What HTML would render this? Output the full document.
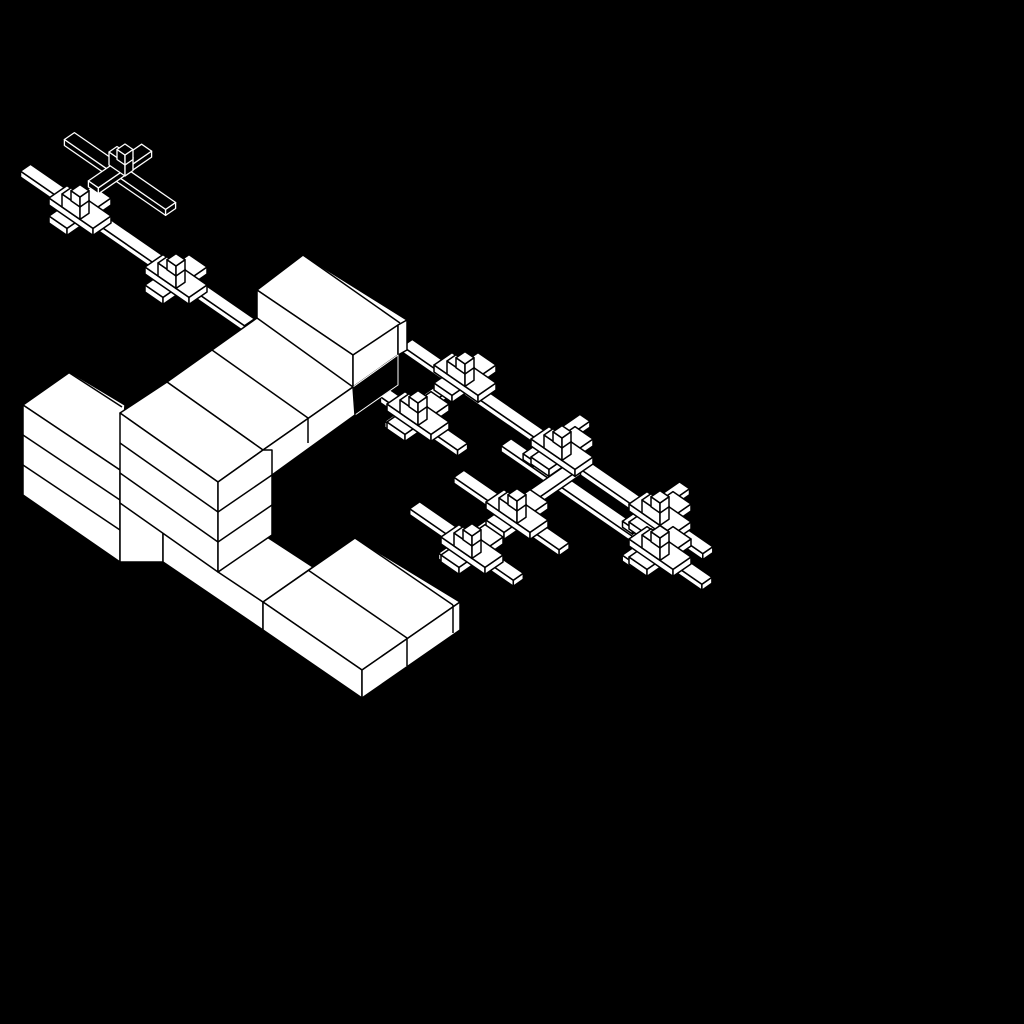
<!DOCTYPE html>
<html><head><meta charset="utf-8"><style>html,body{margin:0;padding:0;background:#000}svg{display:block}</style></head>
<body>
<svg id="s" width="1024" height="1024" viewBox="0 0 1024 1024" xmlns="http://www.w3.org/2000/svg">
<rect width="1024" height="1024" fill="#000"/>
<g id="parts" stroke="#000" stroke-width="1.5" fill="#fff" stroke-linejoin="round"></g>
<g id="bld" stroke="#000" stroke-width="1.5" fill="#fff" stroke-linejoin="round">
<polygon points="257,290 303,255 407,320 353,355"/>
<polygon points="257,290 353,355 353,390 257,330"/>
<polygon points="353,355 398,325 398,355 353,387"/>
<polygon points="398,325 407,320 407,350 398,355"/>
<polygon points="353,387 398,355 398,385 355,415" fill="#000" stroke="#fff" stroke-width="1"/>
<line x1="303" y1="255" x2="400" y2="323"/>
<polygon points="167,382 257,318 353,387 263,450"/>
<line x1="212" y1="350" x2="308" y2="418"/>
<polygon points="263,450 353,387 355,415 272,475 263,475"/>
<line x1="308" y1="418" x2="308" y2="443"/>
<polygon points="23,405 70,372 125,405 120,470"/>
<line x1="68" y1="372" x2="122" y2="407"/>
<polygon points="23,405 120,470 120,562 23,495"/>
<line x1="23" y1="435" x2="120" y2="500"/>
<line x1="23" y1="465" x2="120" y2="530"/>
<polygon points="120,500 163,530 163,562 120,562"/>
<polygon points="163,533 263,602 263,630 163,562"/>
<polygon points="218,572 267,537 313,567 263,602"/>
<polygon points="120,413 167,382 263,450 218,482"/>
<polygon points="120,413 218,482 218,572 120,503"/>
<line x1="120" y1="443" x2="218" y2="512"/>
<line x1="120" y1="473" x2="218" y2="542"/>
<polygon points="218,482 263,450 272,450 272,535 218,572"/>
<line x1="218" y1="512" x2="272" y2="475"/>
<line x1="218" y1="542" x2="272" y2="505"/>
<polygon points="263,602 355,538 460,602 362,670"/>
<polygon points="263,602 362,670 362,698 263,630"/>
<polygon points="362,670 460,602 460,630 362,698"/>
<line x1="308" y1="570" x2="407" y2="638"/>
<line x1="407" y1="638" x2="407" y2="666"/>
<line x1="355" y1="538" x2="453" y2="605"/>
<line x1="453" y1="605" x2="453" y2="633"/>
</g>
</svg>
<script>
var K=0.69,g=document.getElementById('parts'),NS='http://www.w3.org/2000/svg';
function P(u,v,w){return [(u+v),(u-v)*K-w];}
function poly(pts,ox,oy,extra){var e=document.createElementNS(NS,'polygon');
e.setAttribute('points',pts.map(function(p){var q=P(p[0],p[1],p[2]);return (q[0]+ox).toFixed(1)+','+(q[1]+oy).toFixed(1);}).join(' '));
if(extra)for(var k in extra)e.setAttribute(k,extra[k]);g.appendChild(e);}
function box(ox,oy,u0,u1,v0,v1,w0,w1,ex){
poly([[u0,v0,w0],[u1,v0,w0],[u1,v0,w1],[u0,v0,w1]],ox,oy,ex);
poly([[u1,v0,w0],[u1,v1,w0],[u1,v1,w1],[u1,v0,w1]],ox,oy,ex);
poly([[u0,v0,w1],[u1,v0,w1],[u1,v1,w1],[u0,v1,w1]],ox,oy,ex);}
function uv(x,y){return [(x+y/K)/2,(x-y/K)/2];}
function beam(x1,y1,x2,y2,h,hw,ex){h=h||6;hw=hw||5;
var a=uv(x1,y1+h),b=uv(x2,y2+h);
var u0=Math.min(a[0],b[0]),u1=Math.max(a[0],b[0]),v0=Math.min(a[1],b[1]),v1=Math.max(a[1],b[1]);
if(u1-u0>v1-v0){var vc=(v0+v1)/2;v0=vc-hw;v1=vc+hw;}else{var uc=(u0+u1)/2;u0=uc-hw;u1=uc+hw;}
box(0,0,u0,u1,v0,v1,0,h,ex);}
function cross(x,y,ex){var ox=x,oy=y+8;
box(ox,oy,-9,9,-22,22,0,7,ex);
box(ox,oy,-22,22,-9,9,0,7,ex);
box(ox,oy,-9,9,-9,0,7,20,ex);
box(ox,oy,-9,0,0,9,7,17,ex);}
beam(25,168,250,322);
cross(80,206);cross(176,275);
var ol={fill:'#000',stroke:'#fff','stroke-width':'1.3'};
beam(68,137,172,205,6,5,ol);beam(90,182,150,150,6,5,ol);
box(125,172,-8,8,-8,0,7,20,ol);box(125,172,-8,0,0,8,7,17,ol);
beam(407,343,708,550);
beam(505,443,708,580);
beam(460,473,563,547);
beam(415,505,518,577);
beam(383,395,465,445);
beam(383,420,490,365);
beam(437,552,582,470);
beam(525,455,588,420);
beam(625,523,687,487);
beam(625,557,673,530);
var cs=[[465,373],[418,412],[562,447],[517,510],[472,545],[660,512],[660,547]];
cs.sort(function(a,b){return (a[0]+a[1]/K)-(b[0]+b[1]/K);});
cs.forEach(function(c){cross(c[0],c[1]);});
</script>
</body></html>
